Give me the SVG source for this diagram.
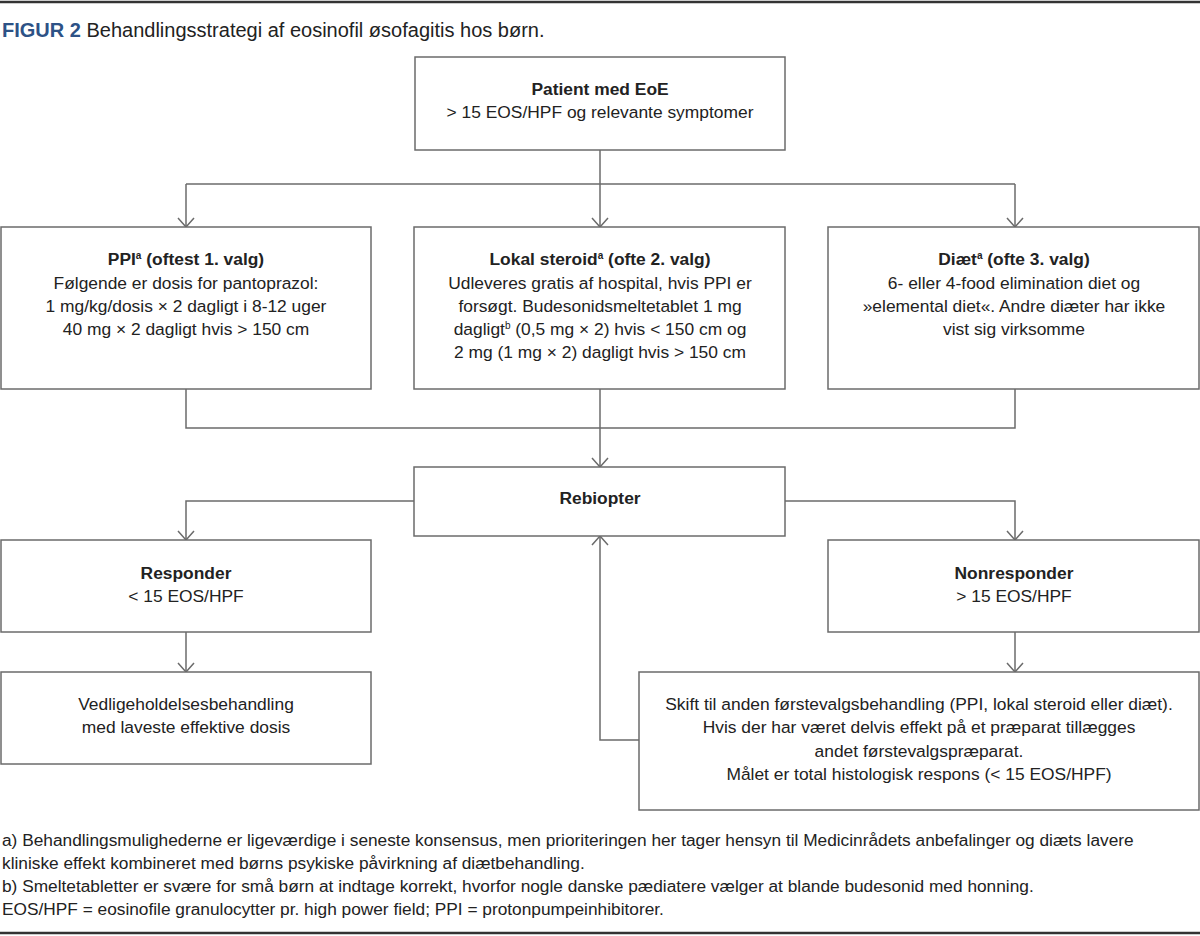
<svg xmlns="http://www.w3.org/2000/svg" width="1200" height="936" viewBox="0 0 1200 936">
<style>
.box{fill:#fff;stroke:#6b6b6b;stroke-width:1.5}
.t{font-family:"Liberation Sans",Arial,sans-serif;font-size:17.4px;fill:#222;text-anchor:middle}
.b{font-weight:bold}
.fn{font-family:"Liberation Sans",Arial,sans-serif;font-size:17.3px;fill:#222}
.ln{fill:none;stroke:#6b6b6b;stroke-width:1.5}
.sup{font-size:10px}
</style>
<defs>
<marker id="arr" viewBox="0 0 20 20" refX="19" refY="10" markerWidth="20" markerHeight="20" markerUnits="userSpaceOnUse" orient="auto">
<path d="M10,2 L19,10 L10,18" fill="none" stroke="#6b6b6b" stroke-width="1.5"/>
</marker>
</defs>
<rect width="1200" height="936" fill="#fff"/>
<line x1="0" y1="2" x2="1200" y2="2" stroke="#333" stroke-width="2.5"/>
<text x="2" y="37" class="fn" style="font-size:20px"><tspan font-weight="bold" fill="#2d5286">FIGUR 2</tspan> Behandlingsstrategi af eosinofil øsofagitis hos børn.</text>

<g id="connectors">
<path class="ln" d="M600,150 V227" marker-end="url(#arr)"/>
<path class="ln" d="M186,184 H1015"/>
<path class="ln" d="M186,184 V227" marker-end="url(#arr)"/>
<path class="ln" d="M1015,184 V227" marker-end="url(#arr)"/>
<path class="ln" d="M186,389 V428 H1015 V389"/>
<path class="ln" d="M600,389 V467" marker-end="url(#arr)"/>
<path class="ln" d="M414,501 H186 V540" marker-end="url(#arr)"/>
<path class="ln" d="M785,501 H1015 V540" marker-end="url(#arr)"/>
<path class="ln" d="M186,632 V672" marker-end="url(#arr)"/>
<path class="ln" d="M1015,632 V672" marker-end="url(#arr)"/>
<path class="ln" d="M639,740 H600 V536" marker-end="url(#arr)"/>
</g>

<g id="patient">
<rect class="box" x="415" y="57" width="370" height="93"/>
<text class="t b" x="600" y="95">Patient med EoE</text>
<text class="t" x="600" y="118">&gt; 15 EOS/HPF og relevante symptomer</text>
</g>

<g id="ppi">
<rect class="box" x="1" y="227" width="370" height="162"/>
<text class="t b" x="186" y="265">PPI<tspan class="sup" dy="-6">a</tspan><tspan dy="6"> (oftest 1. valg)</tspan></text>
<text class="t" x="186" y="289">Følgende er dosis for pantoprazol:</text>
<text class="t" x="186" y="312">1 mg/kg/dosis × 2 dagligt i 8-12 uger</text>
<text class="t" x="186" y="335">40 mg × 2 dagligt hvis &gt; 150 cm</text>
</g>

<g id="steroid">
<rect class="box" x="414" y="227" width="371" height="162"/>
<text class="t b" x="600" y="265">Lokal steroid<tspan class="sup" dy="-6">a</tspan><tspan dy="6"> (ofte 2. valg)</tspan></text>
<text class="t" x="600" y="289">Udleveres gratis af hospital, hvis PPI er</text>
<text class="t" x="600" y="312">forsøgt. Budesonidsmeltetablet 1 mg</text>
<text class="t" x="600" y="335">dagligt<tspan class="sup" dy="-6">b</tspan><tspan dy="6"> (0,5 mg × 2) hvis &lt; 150 cm og</tspan></text>
<text class="t" x="600" y="358">2 mg (1 mg × 2) dagligt hvis &gt; 150 cm</text>
</g>

<g id="diaet">
<rect class="box" x="828" y="227" width="371" height="162"/>
<text class="t b" x="1014" y="265">Diæt<tspan class="sup" dy="-6">a</tspan><tspan dy="6"> (ofte 3. valg)</tspan></text>
<text class="t" x="1014" y="289">6- eller 4-food elimination diet og</text>
<text class="t" x="1014" y="312">»elemental diet«. Andre diæter har ikke</text>
<text class="t" x="1014" y="335">vist sig virksomme</text>
</g>

<g id="rebiopter">
<rect class="box" x="414" y="467" width="371" height="69"/>
<text class="t b" x="600" y="504">Rebiopter</text>
</g>

<g id="responder">
<rect class="box" x="1" y="540" width="370" height="92"/>
<text class="t b" x="186" y="579">Responder</text>
<text class="t" x="186" y="602">&lt; 15 EOS/HPF</text>
</g>

<g id="nonresponder">
<rect class="box" x="828" y="540" width="371" height="92"/>
<text class="t b" x="1014" y="579">Nonresponder</text>
<text class="t" x="1014" y="602">&gt; 15 EOS/HPF</text>
</g>

<g id="vedligehold">
<rect class="box" x="1" y="672" width="370" height="92"/>
<text class="t" x="186" y="710">Vedligeholdelsesbehandling</text>
<text class="t" x="186" y="733">med laveste effektive dosis</text>
</g>

<g id="skift">
<rect class="box" x="639" y="672" width="560" height="138"/>
<text class="t" x="919" y="710">Skift til anden førstevalgsbehandling (PPI, lokal steroid eller diæt).</text>
<text class="t" x="919" y="733">Hvis der har været delvis effekt på et præparat tillægges</text>
<text class="t" x="919" y="757">andet førstevalgspræparat.</text>
<text class="t" x="919" y="780">Målet er total histologisk respons (&lt; 15 EOS/HPF)</text>
</g>

<g id="footnotes">
<text class="fn" x="2" y="846">a) Behandlingsmulighederne er ligeværdige i seneste konsensus, men prioriteringen her tager hensyn til Medicinrådets anbefalinger og diæts lavere</text>
<text class="fn" x="2" y="869">kliniske effekt kombineret med børns psykiske påvirkning af diætbehandling.</text>
<text class="fn" x="2" y="892">b) Smeltetabletter er svære for små børn at indtage korrekt, hvorfor nogle danske pædiatere vælger at blande budesonid med honning.</text>
<text class="fn" x="2" y="915">EOS/HPF = eosinofile granulocytter pr. high power field; PPI = protonpumpeinhibitorer.</text>
</g>
<line x1="0" y1="933" x2="1200" y2="933" stroke="#333" stroke-width="2.5"/>
</svg>
